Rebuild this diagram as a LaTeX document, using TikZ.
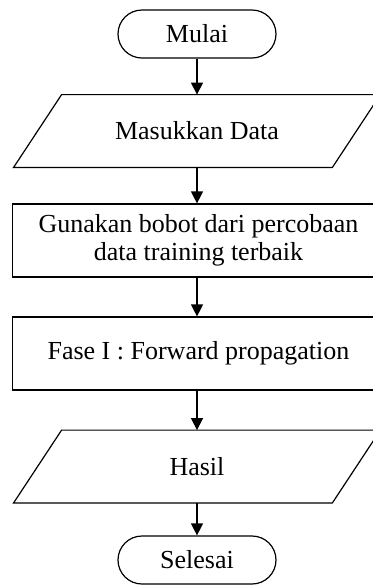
\documentclass[tikz,border=0pt]{standalone}
\usepackage{fontspec}
\setmainfont{Liberation Serif}
\usetikzlibrary{shapes.misc,arrows.meta}

\tikzset{
  terminal/.style={draw,rounded rectangle,line width=.6pt,minimum width=79pt,minimum height=24pt,inner sep=0pt},
  io/.style={rectangle,minimum width=183pt,minimum height=36pt,inner sep=0pt},
  iobox/.style={line width=.6pt,line join=miter},
  proses/.style={draw,rectangle,line width=.6pt,minimum width=186pt,minimum height=36.5pt,inner sep=0pt,align=center},
  arr/.style={line width=.6pt,-{Triangle[width=6pt,length=6pt]}}
}

\begin{document}
\begin{tikzpicture}[x=.5pt,y=-.5pt,font=\fontsize{13}{14}\selectfont]
\useasboundingbox (0,0) rectangle (373,585);
\clip (0,0) rectangle (373,585);

\node[terminal] (mulai) at (197,34) {Mulai};
\node[io] (masuk) at (197,131) {Masukkan Data};
\node[proses] (bobot) at (198.5,240.5) {Gunakan bobot dari percobaan\\data training terbaik};
\node[proses] (fase) at (198.5,353.5) {Fase I : Forward propagation};
\node[io] (hasil) at (197,466.5) {Hasil};
\node[terminal] (selesai) at (197,560) {Selesai};

% jajar genjang input / output
\draw[iobox] ([xshift=24pt]masuk.north west) -- (masuk.north east) -- ([xshift=-24pt]masuk.south east) -- (masuk.south west) -- cycle;
\draw[iobox] ([xshift=24pt]hasil.north west) -- (hasil.north east) -- ([xshift=-24pt]hasil.south east) -- (hasil.south west) -- cycle;

\draw[arr] (mulai.south) -- (mulai.south |- masuk.north);
\draw[arr] (mulai.south |- masuk.south) -- (mulai.south |- bobot.north);
\draw[arr] (mulai.south |- bobot.south) -- (mulai.south |- fase.north);
\draw[arr] (mulai.south |- fase.south) -- (mulai.south |- hasil.north);
\draw[arr] (mulai.south |- hasil.south) -- (selesai.north);
\end{tikzpicture}
\end{document}
